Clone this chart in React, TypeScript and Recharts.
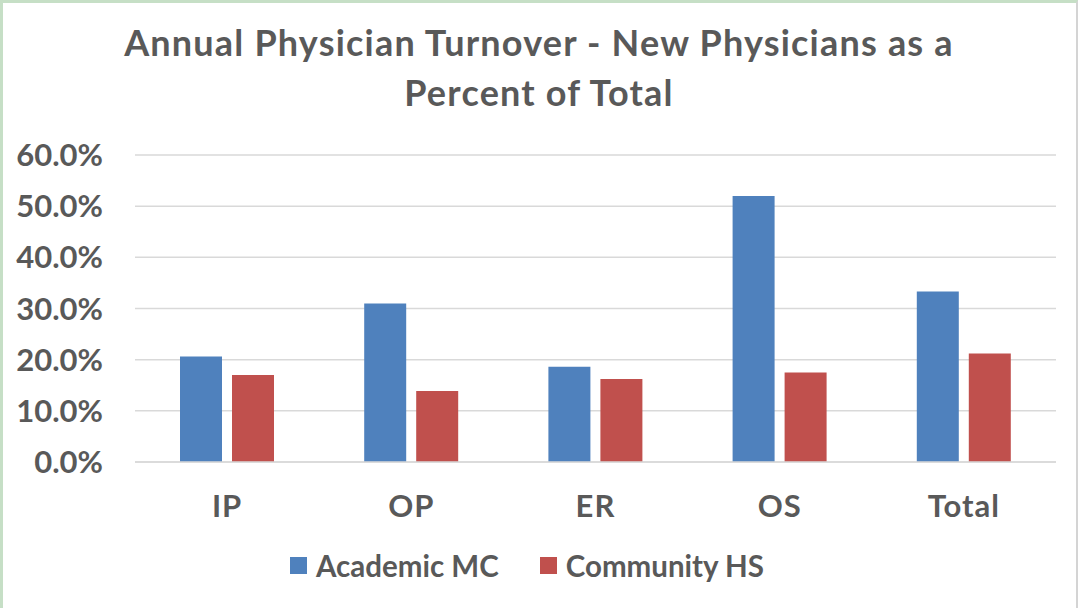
import { Bar, BarChart, CartesianGrid, XAxis, YAxis } from "recharts";

const categories = ["IP", "OP", "ER", "OS", "Total"];
const academicMC = [20.6, 31.0, 18.6, 52.0, 33.3];
const communityHS = [17.0, 13.9, 16.2, 17.5, 21.2];
const yTicks = [0, 10, 20, 30, 40, 50, 60];

const data = categories.map((name, i) => ({
  name,
  academic: academicMC[i],
  community: communityHS[i],
}));

const TEXT = "#595959";
const FONT = "Lato, 'Open Sans', sans-serif";

const legendItems = [
  { label: "Academic MC", color: "#4f81bd" },
  { label: "Community HS", color: "#c0504d" },
];

// legend drawn below the plot, like the Excel original
function LegendBox() {
  return (
    <div
      style={{
        position: "absolute",
        left: -3,
        top: 545,
        width: 1078,
        boxSizing: "border-box",
        paddingRight: 24,
        display: "flex",
        justifyContent: "center",
        gap: 41,
        fontFamily: FONT,
        fontWeight: 700,
        fontSize: 29.5,
        color: TEXT,
      }}
    >
      {legendItems.map((it) => (
        <div key={it.label} style={{ display: "flex", alignItems: "center", gap: 9 }}>
          <span style={{ width: 17, height: 17, background: it.color, display: "inline-block" }} />
          <span>{it.label}</span>
        </div>
      ))}
    </div>
  );
}

export default function App() {
  return (
    <div
      style={{
        position: "absolute",
        left: 0,
        top: 0,
        width: 1078,
        height: 608,
        boxSizing: "border-box",
        borderTop: "3px solid #c6dfc6",
        borderLeft: "3px solid #c6dfc6",
        borderRight: "2px solid #d4d4d4",
        background: "#fff",
        overflow: "hidden",
      }}
    >
      <div
        style={{
          position: "absolute",
          left: -3,
          top: 14,
          width: 1078,
          textAlign: "center",
          fontFamily: FONT,
          fontWeight: 700,
          fontSize: 36,
          letterSpacing: 1.2,
          lineHeight: "50px",
          color: TEXT,
        }}
      >
        Annual Physician Turnover - New Physicians as a
        <br />
        Percent of Total
      </div>
      <div style={{ position: "absolute", left: -3, top: -3 }}>
        <BarChart
          width={1078}
          height={608}
          data={data}
          margin={{ top: 155, right: 22, bottom: 86, left: 0 }}
          barSize={42}
          barGap={10}
        >
          <CartesianGrid vertical={false} stroke="#d9d9d9" strokeWidth={1.5} />
          <XAxis
            dataKey="name"
            axisLine={{ stroke: "#d9d9d9", strokeWidth: 1.5 }}
            tickLine={false}
            tickSize={0}
            tickMargin={33}
            height={60}
            tick={{ fill: TEXT, fontFamily: FONT, fontWeight: 700, fontSize: 31, letterSpacing: 1 }}
          />
          <YAxis
            width={135}
            domain={[0, 60]}
            ticks={yTicks}
            axisLine={false}
            tickLine={false}
            tickSize={0}
            tickMargin={32}
            tickFormatter={(v: number) => v.toFixed(1) + "%"}
            tick={{ fill: TEXT, fontFamily: FONT, fontWeight: 700, fontSize: 31 }}
          />
          <Bar dataKey="academic" name="Academic MC" fill="#4f81bd" isAnimationActive={false} />
          <Bar dataKey="community" name="Community HS" fill="#c0504d" isAnimationActive={false} />
        </BarChart>
      </div>
      <LegendBox />
    </div>
  );
}
